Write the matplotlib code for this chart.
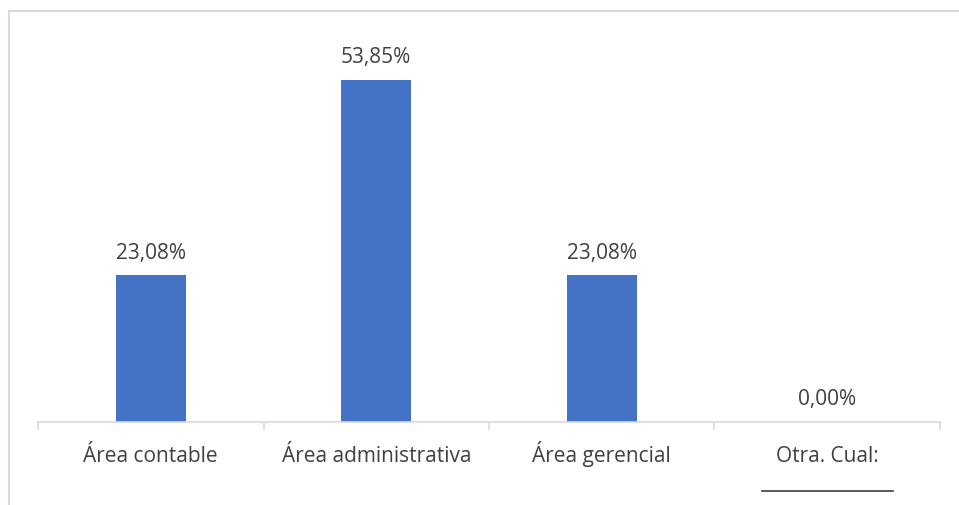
import matplotlib.pyplot as plt
from matplotlib.patches import Rectangle

categories = ["Área contable", "Área administrativa", "Área gerencial", "Otra. Cual:"]
values = [23.08, 53.85, 23.08, 0.00]
value_labels = ["23,08%", "53,85%", "23,08%", "0,00%"]

plt.rcParams['font.family'] = ['Open Sans', 'DejaVu Sans']

W, H = 959, 505
fig = plt.figure(figsize=(W / 100, H / 100), dpi=100)

# marco gris claro (solo lados izquierdo y superior visibles)
fig.patches.append(Rectangle((8.5 / W, -0.5), 2.0, 1.5 - 11 / H,
                             transform=fig.transFigure, fill=False,
                             edgecolor='#d9d9d9', linewidth=1.5))

ax = fig.add_axes([38 / W, (H - 422) / H, (940 - 38) / W, (422 - 41) / H])
x = range(len(categories))
ax.bar(x, values, width=0.31, color='#4472C4')

ax.set_xlim(-0.5, len(categories) - 0.5)
ax.set_ylim(0, 60)

for xi, v, lab in zip(x, values, value_labels):
    ax.annotate(lab, (xi, v), xytext=(0, 12), textcoords='offset points',
                ha='center', va='baseline', fontsize=15, color='#404040')

ax.set_yticks([])
ax.set_xticks([i - 0.5 for i in range(len(categories) + 1)])
ax.set_xticklabels([])
ax.tick_params(axis='x', length=6, color='#d9d9d9', width=1.2)
for s in ['top', 'right', 'left']:
    ax.spines[s].set_visible(False)
ax.spines['bottom'].set_color('#d9d9d9')
ax.spines['bottom'].set_linewidth(1.2)

for xi, cat in zip(x, categories):
    ax.annotate(cat, (xi, 0), xytext=(0, -28.5), textcoords='offset points',
                ha='center', va='baseline', fontsize=15, color='#404040')

# línea para "Otra. Cual:"
ax.plot([3 - 0.29, 3 + 0.29], [-10.8, -10.8], color='#404040',
        linewidth=1.2, clip_on=False)

fig.savefig("out.png", dpi=100)
